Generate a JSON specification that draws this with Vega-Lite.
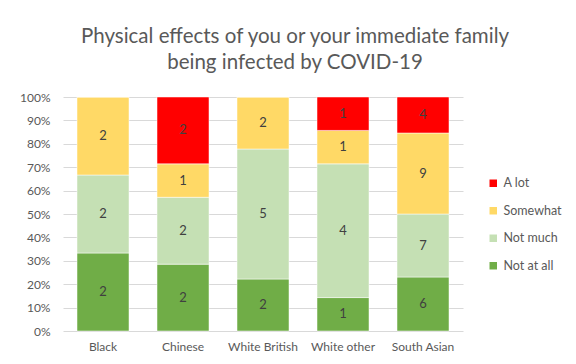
{
  "$schema": "https://vega.github.io/schema/vega-lite/v6.json",
  "autosize": "none",
  "width": 400,
  "height": 234,
  "padding": {"left": 63, "top": 97, "right": 113, "bottom": 33},
  "background": "white",
  "title": {
    "text": ["Physical effects of you or your immediate family", "being infected by COVID-19"],
    "anchor": "middle",
    "dx": 32,
    "offset": 18,
    "font": "Lato",
    "fontSize": 20.5,
    "fontWeight": "normal",
    "lineHeight": 26,
    "color": "#595959"
  },
  "data": {
    "values": [
      {"group": "Black", "response": "Not at all", "rank": 1, "count": 2},
      {"group": "Black", "response": "Not much", "rank": 2, "count": 2},
      {"group": "Black", "response": "Somewhat", "rank": 3, "count": 2},
      {"group": "Black", "response": "A lot", "rank": 4, "count": 0},
      {"group": "Chinese", "response": "Not at all", "rank": 1, "count": 2},
      {"group": "Chinese", "response": "Not much", "rank": 2, "count": 2},
      {"group": "Chinese", "response": "Somewhat", "rank": 3, "count": 1},
      {"group": "Chinese", "response": "A lot", "rank": 4, "count": 2},
      {"group": "White British", "response": "Not at all", "rank": 1, "count": 2},
      {"group": "White British", "response": "Not much", "rank": 2, "count": 5},
      {"group": "White British", "response": "Somewhat", "rank": 3, "count": 2},
      {"group": "White British", "response": "A lot", "rank": 4, "count": 0},
      {"group": "White other", "response": "Not at all", "rank": 1, "count": 1},
      {"group": "White other", "response": "Not much", "rank": 2, "count": 4},
      {"group": "White other", "response": "Somewhat", "rank": 3, "count": 1},
      {"group": "White other", "response": "A lot", "rank": 4, "count": 1},
      {"group": "South Asian", "response": "Not at all", "rank": 1, "count": 6},
      {"group": "South Asian", "response": "Not much", "rank": 2, "count": 7},
      {"group": "South Asian", "response": "Somewhat", "rank": 3, "count": 9},
      {"group": "South Asian", "response": "A lot", "rank": 4, "count": 4}
    ]
  },
  "transform": [
    {"stack": "count", "groupby": ["group"], "sort": [{"field": "rank", "order": "ascending"}], "offset": "normalize", "as": ["share0", "share1"]},
    {"calculate": "(datum.share0 + datum.share1) / 2", "as": "shareMid"}
  ],
  "encoding": {
    "x": {
      "field": "group",
      "type": "nominal",
      "sort": ["Black", "Chinese", "White British", "White other", "South Asian"],
      "scale": {"paddingInner": 0.35, "paddingOuter": 0.175},
      "axis": {
        "title": null,
        "labelAngle": 0,
        "domain": false,
        "ticks": false,
        "labelPadding": 10,
        "labelFont": "Lato",
        "labelFontSize": 12,
        "labelColor": "#595959"
      }
    }
  },
  "layer": [
    {
      "mark": {"type": "bar", "stroke": "white", "strokeWidth": 0.5},
      "encoding": {
        "y": {
          "field": "share0",
          "type": "quantitative",
          "scale": {"domain": [0, 1], "nice": false},
          "axis": {
            "title": null,
            "format": ".0%",
            "values": [0, 0.1, 0.2, 0.3, 0.4, 0.5, 0.6, 0.7, 0.8, 0.9, 1],
            "labelOverlap": false,
            "labelFlush": false,
            "domain": false,
            "ticks": false,
            "labelPadding": 13,
            "labelFont": "Lato",
            "labelFontSize": 12,
            "labelColor": "#595959",
            "gridColor": "#D9D9D9",
            "gridWidth": 1
          }
        },
        "y2": {"field": "share1"},
        "color": {
          "field": "response",
          "type": "nominal",
          "scale": {
            "domain": ["A lot", "Somewhat", "Not much", "Not at all"],
            "range": ["#FF0000", "#FFD966", "#C5E0B4", "#70AD47"]
          },
          "legend": {
            "title": null,
            "orient": "none",
            "legendX": 424,
            "legendY": 80,
            "symbolType": "square",
            "symbolSize": 56,
            "symbolStrokeWidth": 0,
            "labelFont": "Lato",
            "labelFontSize": 12.5,
            "labelColor": "#595959",
            "labelOffset": 4,
            "rowPadding": 14.5,
            "padding": 0
          }
        }
      }
    },
    {
      "transform": [{"filter": "datum.count > 0"}],
      "mark": {"type": "text", "font": "Lato", "fontSize": 13, "color": "#404040"},
      "encoding": {
        "y": {
          "field": "shareMid",
          "type": "quantitative",
          "scale": {"domain": [0, 1], "nice": false},
          "axis": {
            "title": null,
            "format": ".0%",
            "values": [0, 0.1, 0.2, 0.3, 0.4, 0.5, 0.6, 0.7, 0.8, 0.9, 1],
            "labelOverlap": false,
            "labelFlush": false,
            "domain": false,
            "ticks": false,
            "labelPadding": 13,
            "labelFont": "Lato",
            "labelFontSize": 12,
            "labelColor": "#595959",
            "gridColor": "#D9D9D9",
            "gridWidth": 1
          }
        },
        "text": {"field": "count", "type": "quantitative"}
      }
    }
  ],
  "config": {
    "view": {"stroke": null}
  }
}
